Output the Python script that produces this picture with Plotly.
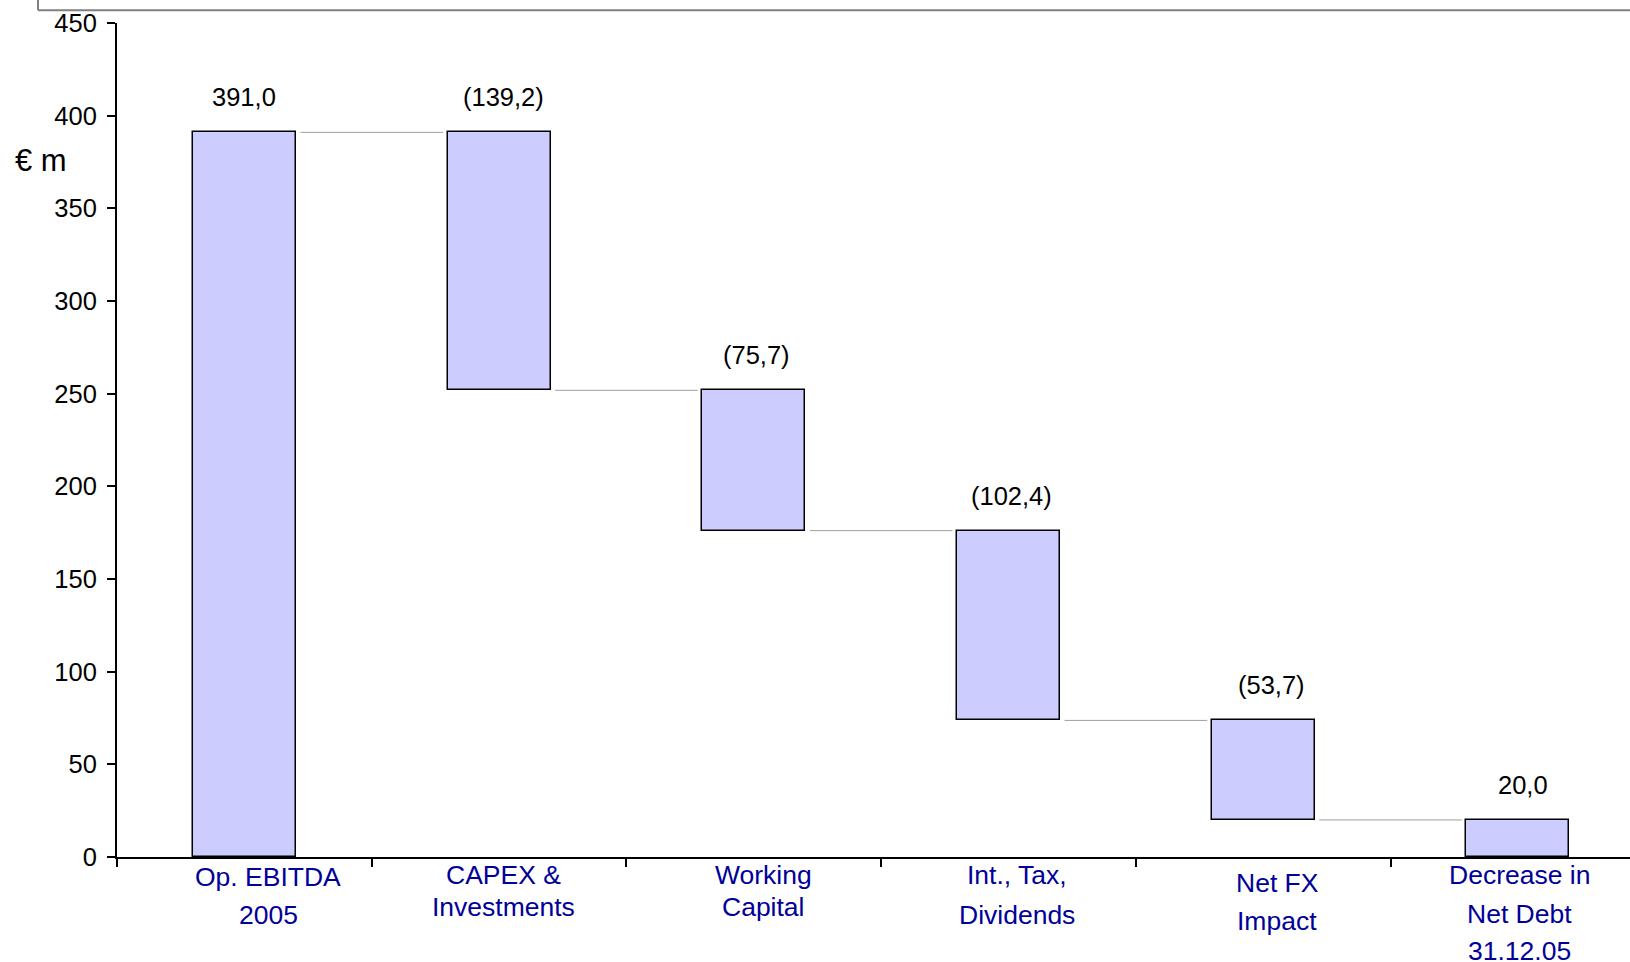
import plotly.graph_objects as go

# ---- data ----
categories = ["Op. EBITDA<br>2005", "CAPEX &<br>Investments", "Working<br>Capital",
              "Int., Tax,<br>Dividends", "Net FX<br>Impact", "Decrease in<br>Net Debt<br>31.12.05"]
values = [391.0, -139.2, -75.7, -102.4, -53.7, 20.0]
is_total = [False, False, False, False, False, True]
y_ticks = [0, 50, 100, 150, 200, 250, 300, 350, 400, 450]

# ---- styles ----
FONT = "Arial, 'Liberation Sans', sans-serif"
BAR_FILL = "#CCCCFF"
LABEL_BLUE = "#000099"
line_offsets = [[19, 57], [17, 49], [17, 49], [17, 57], [25, 63], [17, 56, 93]]
label_xshift = [24, 4, 10, 8, 14, 2]
value_xshift = [0, 4, 3, 3, 8, 5]

# waterfall geometry derived from values
bases, heights, tops, levels = [], [], [], []
running = 0.0
for v, tot in zip(values, is_total):
    if tot:
        bases.append(0.0)
        heights.append(v)
        tops.append(v)
    elif v >= 0:
        bases.append(running)
        heights.append(v)
        running += v
        tops.append(running)
    else:
        new = running + v
        bases.append(new)
        heights.append(-v)
        tops.append(running)
        running = new
    levels.append(running)

xs = list(range(len(categories)))


def fmt(v):
    s = f"{abs(v):.1f}".replace(".", ",")
    return f"({s})" if v < 0 else s


fig = go.Figure()
fig.add_trace(go.Bar(
    x=xs, y=heights, base=bases, width=0.404,
    marker=dict(color=BAR_FILL, line=dict(color="black", width=1.5)),
    hoverinfo="skip", showlegend=False,
))

# connectors
for i in range(len(xs) - 1):
    fig.add_trace(go.Scatter(
        x=[xs[i] + 0.22, xs[i + 1] - 0.22], y=[levels[i], levels[i]],
        mode="lines", line=dict(color="#A0A0A0", width=1),
        hoverinfo="skip", showlegend=False,
    ))

annotations = []
# value labels
for x, v, t, dx in zip(xs, values, tops, value_xshift):
    annotations.append(dict(
        x=x, y=t, xref="x", yref="y", text=fmt(v), showarrow=False,
        yanchor="middle", yshift=35, xshift=dx,
        font=dict(family=FONT, size=25.5, color="black"),
    ))
# category labels (line by line)
for x, cat, offs, dx in zip(xs, categories, line_offsets, label_xshift):
    for line, off in zip(cat.split("<br>"), offs):
        annotations.append(dict(
            x=x, y=0, xref="x", yref="paper", text=line, showarrow=False,
            yanchor="middle", yshift=-off - 1, xshift=dx,
            font=dict(family=FONT, size=26.5, color=LABEL_BLUE),
        ))
# unit label
annotations.append(dict(
    x=-0.0505, y=0.835, xref="paper", yref="paper", text="€ m", showarrow=False,
    xanchor="center", yanchor="middle", font=dict(family=FONT, size=31, color="black"),
))

shapes = [
    dict(type="line", xref="paper", yref="paper", x0=-0.0522, x1=1.01, y0=1.0153, y1=1.0153,
         line=dict(color="#7F7F7F", width=2)),
    dict(type="line", xref="paper", yref="paper", x0=-0.0522, x1=-0.0522, y0=1.0153, y1=1.05,
         line=dict(color="#7F7F7F", width=2)),
]

fig.update_layout(
    width=1630, height=962,
    margin=dict(l=117, r=0, t=23, b=105),
    paper_bgcolor="white", plot_bgcolor="white",
    font=dict(family=FONT, size=24, color="black"),
    annotations=annotations, shapes=shapes,
    bargap=0,
)
fig.update_xaxes(
    range=[-0.5, 5.44], showgrid=False, zeroline=False,
    showline=True, linecolor="black", linewidth=2,
    tickmode="array", tickvals=[i - 0.5 for i in range(len(xs) + 1)],
    showticklabels=False, ticks="outside", ticklen=8, tickwidth=2, tickcolor="black",
)
fig.update_yaxes(
    range=[0, 450], showgrid=False, zeroline=False,
    showline=True, linecolor="black", linewidth=2,
    tickmode="array", tickvals=y_ticks, ticktext=[str(t) for t in y_ticks],
    ticks="outside", ticklen=8, tickwidth=2, tickcolor="black",
    tickfont=dict(family=FONT, size=25.5, color="black"), ticklabelstandoff=5,
)

fig.write_html("out.html")
